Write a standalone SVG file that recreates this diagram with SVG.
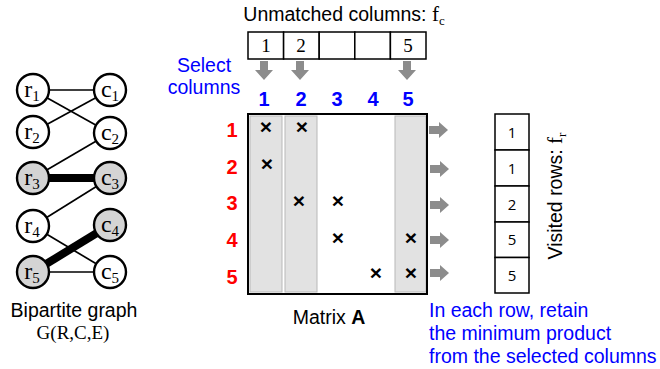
<svg xmlns="http://www.w3.org/2000/svg" width="660" height="369" viewBox="0 0 660 369">
<style>
.node{fill:#fff;stroke:#000;stroke-width:2.4}
.hl{fill:#d4d4d4}
.lbl{font-family:"Liberation Serif",serif;font-size:24px;text-anchor:middle}
.sub{font-size:15px}
.edge{stroke:#000;stroke-width:1.7}
.thick{stroke:#000;stroke-width:8}
.sans{font-family:"Liberation Sans",Arial,sans-serif;font-size:19.5px}
.blue{fill:#0000ff}
.colnum{font-family:"Liberation Sans",Arial,sans-serif;font-size:20px;font-weight:bold;fill:#0000ff;text-anchor:middle}
.rownum{font-family:"Liberation Sans",Arial,sans-serif;font-size:20px;font-weight:bold;fill:#ff0000;text-anchor:middle}
.strip{fill:#e2e2e2;stroke:#b8b8b8;stroke-width:1}
.cell{fill:#fff;stroke:#000;stroke-width:1.5}
.x{font-family:"Liberation Sans",Arial,sans-serif;font-size:21px;font-weight:bold;text-anchor:middle}
.arr{fill:#8c8c8c}
.serifnum{font-family:"Liberation Serif",serif;font-size:19px;text-anchor:middle}
.vnum{font-family:"Open Sans","Liberation Sans",sans-serif;font-size:15px;text-anchor:middle}
</style>
<defs>
<path id="darr" d="M-4,0 H4 V9 H9 L0,19 L-9,9 H-4 Z"/>
<path id="rarr" d="M0,-4 H10 V-8 L19,0 L10,8 V4 H0 Z"/>
</defs>

<g id="connectors">
<line class="edge" x1="33" y1="90" x2="110" y2="90"/>
<line class="edge" x1="33" y1="90" x2="110" y2="133"/>
<line class="edge" x1="33" y1="132" x2="110" y2="90"/>
<line class="edge" x1="33" y1="178" x2="110" y2="133"/>
<line class="thick" x1="33" y1="178" x2="110" y2="178"/>
<line class="edge" x1="33" y1="226" x2="110" y2="178"/>
<line class="edge" x1="33" y1="226" x2="110" y2="272"/>
<line class="thick" x1="33" y1="272" x2="110" y2="225"/>
<line class="edge" x1="33" y1="272" x2="110" y2="272"/>
</g>

<g id="r1"><circle class="node" cx="33" cy="90" r="16"/><text class="lbl" x="32" y="97">r<tspan class="sub" dy="4">1</tspan></text></g>
<g id="r2"><circle class="node" cx="33" cy="132" r="16"/><text class="lbl" x="32" y="139">r<tspan class="sub" dy="4">2</tspan></text></g>
<g id="r3"><circle class="node hl" cx="33" cy="178" r="16"/><text class="lbl" x="32" y="185">r<tspan class="sub" dy="4">3</tspan></text></g>
<g id="r4"><circle class="node" cx="33" cy="226" r="16"/><text class="lbl" x="32" y="233">r<tspan class="sub" dy="4">4</tspan></text></g>
<g id="r5"><circle class="node hl" cx="33" cy="272" r="16"/><text class="lbl" x="32" y="279">r<tspan class="sub" dy="4">5</tspan></text></g>
<g id="c1"><circle class="node" cx="110" cy="90" r="16"/><text class="lbl" x="110" y="97">c<tspan class="sub" dy="4">1</tspan></text></g>
<g id="c2"><circle class="node" cx="110" cy="133" r="16"/><text class="lbl" x="110" y="140">c<tspan class="sub" dy="4">2</tspan></text></g>
<g id="c3"><circle class="node hl" cx="110" cy="178" r="16"/><text class="lbl" x="110" y="185">c<tspan class="sub" dy="4">3</tspan></text></g>
<g id="c4"><circle class="node hl" cx="110" cy="225" r="16"/><text class="lbl" x="110" y="232">c<tspan class="sub" dy="4">4</tspan></text></g>
<g id="c5"><circle class="node" cx="110" cy="272" r="16"/><text class="lbl" x="110" y="279">c<tspan class="sub" dy="4">5</tspan></text></g>

<g id="graph-label">
<text class="sans" x="74" y="317" text-anchor="middle">Bipartite graph</text>
<text x="73" y="339" text-anchor="middle" font-family="Liberation Serif,serif" font-size="19">G(R,C,E)</text>
</g>

<g id="unmatched">
<text class="sans" x="344" y="21" text-anchor="middle">Unmatched columns: <tspan font-family="Liberation Serif,serif" font-size="21">f</tspan><tspan font-family="Liberation Serif,serif" font-size="13" dy="4">c</tspan></text>
<rect class="cell" x="248" y="32" width="35.6" height="27"/>
<rect class="cell" x="283.6" y="32" width="35.6" height="27"/>
<rect class="cell" x="319.2" y="32" width="35.6" height="27"/>
<rect class="cell" x="354.8" y="32" width="35.6" height="27"/>
<rect class="cell" x="390.4" y="32" width="35.6" height="27"/>
<text class="serifnum" x="266" y="52">1</text>
<text class="serifnum" x="301" y="52">2</text>
<text class="serifnum" x="408" y="52">5</text>
<use href="#darr" class="arr" x="264" y="61"/>
<use href="#darr" class="arr" x="300" y="61"/>
<use href="#darr" class="arr" x="407" y="61"/>
</g>

<g id="select">
<text class="sans blue" x="204" y="72" text-anchor="middle" font-size="21">Select</text>
<text class="sans blue" x="204" y="94" text-anchor="middle" font-size="21">columns</text>
<text class="colnum" x="264" y="106">1</text>
<text class="colnum" x="301" y="106">2</text>
<text class="colnum" x="337" y="106">3</text>
<text class="colnum" x="373" y="106">4</text>
<text class="colnum" x="408" y="106">5</text>
</g>

<g id="matrix">
<rect x="248" y="114" width="179" height="180" fill="#fff"/>
<rect class="strip" x="250" y="116" width="32" height="176"/>
<rect class="strip" x="285" y="116" width="32" height="176"/>
<rect class="strip" x="395" y="116" width="31" height="176"/>
<rect x="248" y="114" width="179" height="180" fill="none" stroke="#000" stroke-width="2"/>
<text class="rownum" x="232" y="137">1</text>
<text class="rownum" x="232" y="174">2</text>
<text class="rownum" x="232" y="210">3</text>
<text class="rownum" x="232" y="247">4</text>
<text class="rownum" x="232" y="284">5</text>
<text class="x" x="266" y="134">×</text>
<text class="x" x="302" y="134">×</text>
<text class="x" x="267" y="171">×</text>
<text class="x" x="299" y="208">×</text>
<text class="x" x="338" y="208">×</text>
<text class="x" x="338" y="245">×</text>
<text class="x" x="411" y="245">×</text>
<text class="x" x="376" y="280">×</text>
<text class="x" x="411" y="280">×</text>
<text class="sans" x="329" y="324" text-anchor="middle">Matrix <tspan font-weight="bold">A</tspan></text>
</g>

<g id="row-arrows">
<use href="#rarr" class="arr" x="429" y="130"/>
<use href="#rarr" class="arr" x="430" y="169"/>
<use href="#rarr" class="arr" x="430" y="205"/>
<use href="#rarr" class="arr" x="430" y="240"/>
<use href="#rarr" class="arr" x="430" y="273"/>
</g>

<g id="visited">
<rect class="cell" x="495" y="114" width="34" height="36"/>
<rect class="cell" x="495" y="150" width="34" height="36"/>
<rect class="cell" x="495" y="186" width="34" height="36"/>
<rect class="cell" x="495" y="222" width="34" height="35.5"/>
<rect class="cell" x="495" y="257.5" width="34" height="35.5"/>
<text class="vnum" x="512" y="138">1</text>
<text class="vnum" x="512" y="174">1</text>
<text class="vnum" x="512" y="210">2</text>
<text class="vnum" x="512" y="245">5</text>
<text class="vnum" x="512" y="281">5</text>
<text class="sans" transform="translate(562,196) rotate(-90)" text-anchor="middle">Visited rows: <tspan font-family="Liberation Serif,serif" font-size="21">f</tspan><tspan font-family="Liberation Serif,serif" font-size="13" dy="4">r</tspan></text>
</g>

<g id="note">
<text class="sans blue" x="429" y="317">In each row, retain</text>
<text class="sans blue" x="429" y="340">the minimum product</text>
<text class="sans blue" x="429" y="363">from the selected columns</text>
</g>
</svg>
